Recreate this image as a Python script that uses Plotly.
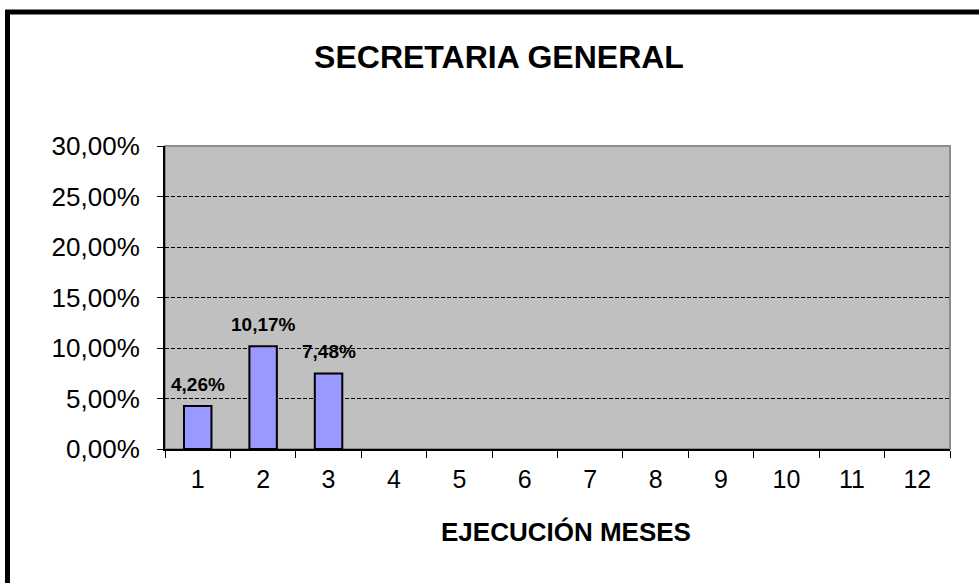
import plotly.graph_objects as go

months = [str(i) for i in range(1, 13)]
values = [4.26, 10.17, 7.48, None, None, None, None, None, None, None, None, None]
labels = ["4,26%", "10,17%", "7,48%", "", "", "", "", "", "", "", "", ""]
y_ticks = [0, 5, 10, 15, 20, 25, 30]
y_ticktext = ["0,00%", "5,00%", "10,00%", "15,00%", "20,00%", "25,00%", "30,00%"]

W, H = 979, 583
ml, mr, mt, mb = 165, 29, 146, 134
pw, ph = W - ml - mr, H - mt - mb

fig = go.Figure()
fig.add_trace(go.Bar(
    x=months, y=values,
    marker=dict(color="#9999FF", line=dict(color="black", width=2)),
    width=0.42,
))
for idx, (v, t) in enumerate(zip(values, labels)):
    if v is not None and t:
        fig.add_annotation(x=idx, y=v, text="<b>%s</b>" % t, showarrow=False,
                           yanchor="bottom", yshift=9,
                           font=dict(family="Liberation Sans, Arial", size=19, color="black"))

# x-axis title placed as annotation (slightly right of plot centre as in reference)
fig.add_annotation(xref="paper", yref="paper", x=(566 - ml) / pw, y=-(532 - (mt + ph)) / ph,
                   text="<b>EJECUCIÓN MESES</b>", showarrow=False,
                   xanchor="center", yanchor="middle",
                   font=dict(family="Liberation Sans, Arial", size=26, color="black"))

# outer chart frame (left/top visible, right/bottom beyond page)
fig.add_shape(type="rect", xref="paper", yref="paper",
              x0=(7.5 - ml) / pw, x1=(W + 10 - ml) / pw,
              y0=-(H + 10 - mt - ph) / ph, y1=(H - mb - 12) / ph,
              line=dict(color="black", width=5), fillcolor="rgba(0,0,0,0)", layer="below")
# plot area subtle border
fig.add_shape(type="rect", xref="paper", yref="paper", x0=0, x1=1, y0=0, y1=1,
              line=dict(color="#8c8c8c", width=2), fillcolor="rgba(0,0,0,0)", layer="below")

fig.update_layout(
    width=W, height=H,
    margin=dict(l=ml, r=mr, t=mt, b=mb, autoexpand=False),
    paper_bgcolor="white", plot_bgcolor="#C0C0C0",
    showlegend=False,
    font=dict(family="Liberation Sans, Arial", color="black"),
    title=dict(text="<b>SECRETARIA GENERAL</b>", x=499 / W, xanchor="center",
               y=1 - 57 / H, yanchor="middle", font=dict(size=32)),
)
fig.update_xaxes(
    type="category", tickson="boundaries", ticks="outside", ticklen=7, tickcolor="black",
    tickwidth=1, showline=True, linecolor="black", linewidth=2, showgrid=False,
    tickfont=dict(size=25), ticklabelstandoff=7,
)
fig.update_yaxes(
    range=[0, 30], tickvals=y_ticks, ticktext=y_ticktext, ticks="outside", ticklen=6,
    tickcolor="black", showline=True, linecolor="black", linewidth=2,
    showgrid=True, gridcolor="black", gridwidth=1, griddash="4px,2px",
    tickfont=dict(size=26), zeroline=False, ticklabelstandoff=12,
)
fig.write_html("out.html", config={"displayModeBar": False},
               post_script="document.body.style.margin='0';")
